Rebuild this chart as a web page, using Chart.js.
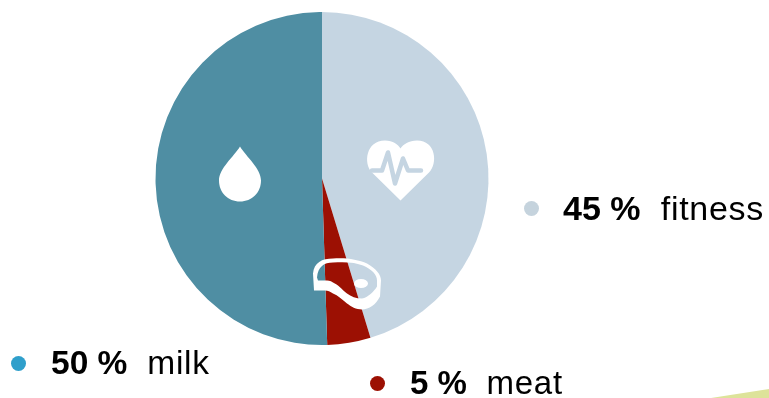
<!DOCTYPE html>
<html>
<head>
<meta charset="utf-8">
<script src="https://cdn.jsdelivr.net/npm/chart.js@4"></script>
<style>
  html, body { margin: 0; padding: 0; background: #fff; overflow: hidden; }
  #wrap { position: relative; width: 769px; height: 398px; }
  #wrap canvas { position: absolute; left: 0; top: 0; }
  .key { position: absolute; white-space: pre; font-family: "Liberation Sans", sans-serif; letter-spacing: 0.7px; color: #000; line-height: 36px; }
  .key b { font-weight: bold; letter-spacing: 0; }
  .dot { position: absolute; width: 15px; height: 15px; border-radius: 50%; }
  #corner { position: absolute; left: 700px; top: 380px; width: 69px; height: 18px; background: #dde39a; clip-path: polygon(11px 18px, 69px 9px, 69px 18px); }
</style>
</head>
<body>
<div id="wrap">
  <canvas id="pie" width="769" height="398"></canvas>
  <div id="corner"></div>
</div>
<script>
// ----- Data -----
const categories = ["fitness", "meat", "milk"];
const shares = [45.3, 4.2, 50.5];           // slice sizes as drawn
const shareLabels = ["45 %", "5 %", "50 %"]; // printed values
const sliceColors = ["#c5d5e2", "#9c1003", "#4f8ea3"];
const dotColors = ["#c5d3dd", "#9c1003", "#2f9fcb"];
const keyLeft = [563, 410, 51];
const keyTop = [190, 365, 345];
const keySize = [34, 33, 33.5];
const dotLeft = [524, 370, 11];

// ----- Icons, relative to the pie centre -----
const dropIcon = new Path2D("M-82 -32 C-88 -22 -103 -10 -103 2 C-103 14 -94 23 -82 23 C-70 23 -61 14 -61 2 C-61 -10 -76 -22 -82 -32 Z");
const heartIcon = new Path2D("M78.5 22 L50 -6 C41 -15 44 -38 63 -38 C71 -38 76 -34 78.5 -30 C81 -34 87 -38 95 -38 C114 -38 116 -15 107 -6 Z");
const meatIcon = new Path2D(
  "M-9 95 C-8 84 0 80 11 80 C24 79 36 81 45 85 C54 90 59 96 59 102 L58 118 C54 126 47 131 40 131 C34 131 29 128 25 125 C20 121 16 117 11 115 C8 113 6 112 3 112 L-8 112 Z " +
  "M-5 99 C-4 88 2 84 11 84 C24 83 34 84 41 87 C50 91 55 96 55 102 L55 108 C52 113 46 119 40 120 C34 120 29 118 25 115 C20 111 16 106 11 104 C8 102 6 102 3 102 L-4 102 Z");
const pulse = [[50, -8], [60, -8], [66, -26], [73, 5], [81, -20], [86, -8], [99, -8]];

const iconPlugin = {
  id: "icons",
  afterDraw(chart) {
    const { x, y } = chart.getDatasetMeta(0).data[0];
    const c = chart.ctx;
    c.save();
    c.translate(x, y);
    c.fillStyle = "#fff";
    c.fill(dropIcon);
    c.fill(heartIcon);
    c.fill(meatIcon, "evenodd");
    c.beginPath();
    c.ellipse(39, 105, 7, 4.5, 0, 0, Math.PI * 2);
    c.fill();
    c.beginPath();
    pulse.forEach((p, i) => i ? c.lineTo(p[0], p[1]) : c.moveTo(p[0], p[1]));
    c.strokeStyle = sliceColors[0];
    c.lineWidth = 4.5;
    c.lineCap = "round";
    c.lineJoin = "round";
    c.stroke();
    c.restore();
  }
};

new Chart(document.getElementById("pie"), {
  type: "pie",
  data: {
    labels: categories,
    datasets: [{ data: shares, backgroundColor: sliceColors, borderWidth: 0, hoverOffset: 0 }]
  },
  options: {
    responsive: false,
    animation: false,
    layout: { padding: { left: 155, right: 280, top: 12, bottom: 53 } },
    plugins: { legend: { display: false }, tooltip: { enabled: false } }
  },
  plugins: [iconPlugin]
});

// ----- Legend -----
const wrap = document.getElementById("wrap");
categories.forEach((name, i) => {
  const dot = document.createElement("div");
  dot.className = "dot";
  dot.style.cssText = `left:${dotLeft[i]}px;top:${keyTop[i] + 11}px;background:${dotColors[i]}`;
  wrap.appendChild(dot);
  const key = document.createElement("div");
  key.className = "key";
  key.style.cssText = `left:${keyLeft[i]}px;top:${keyTop[i]}px;font-size:${keySize[i]}px`;
  key.innerHTML = `<b>${shareLabels[i]}</b>  ${name}`;
  wrap.appendChild(key);
});
</script>
</body>
</html>
